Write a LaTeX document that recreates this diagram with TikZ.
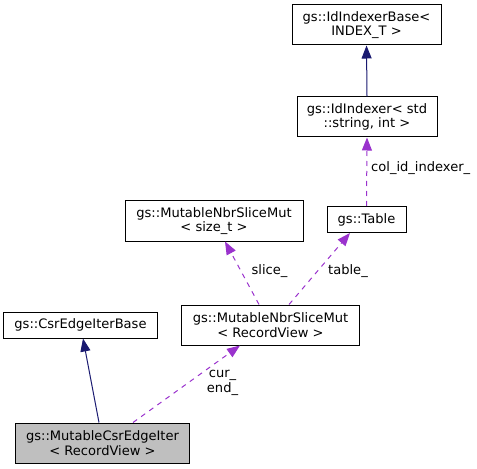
\documentclass[tikz,border=0pt]{standalone}
\usepackage{fontspec}
\setmainfont{DejaVu Sans}
\usetikzlibrary{arrows.meta}
\definecolor{navyc}{HTML}{191970}
\definecolor{purpc}{HTML}{9A32CD}
\definecolor{grayfill}{HTML}{BFBFBF}
\begin{document}
\begin{tikzpicture}[x=1bp,y=-1bp,
  cls/.style={draw=black,line width=1bp,fill=white,inner sep=0pt,align=center,
    font=\fontsize{13.1}{14.5}\selectfont},
  inh/.style={draw=navyc,line width=1bp,-{Triangle[length=13bp,width=10bp]}},
  use/.style={draw=purpc,line width=1bp,dash pattern=on 5bp off 5bp,-{Triangle[length=13bp,width=10bp]}},
  lbl/.style={inner sep=0pt,align=center,font=\fontsize{13.1}{14.5}\selectfont}]
\useasboundingbox (0,0) rectangle (477,469);
\node[cls,minimum width=149bp,minimum height=40bp] (base) at (366.5,25) {gs::IdIndexerBase<\\INDEX\_T >};
\node[cls,minimum width=140bp,minimum height=40bp] (idx) at (367,117) {gs::IdIndexer< std\\::string, int >};
\node[cls,minimum width=79bp,minimum height=26bp] (tab) at (366.5,219.5) {gs::Table};
\node[cls,minimum width=178bp,minimum height=40bp] (slc) at (214,221) {gs::MutableNbrSliceMut\\< size\_t >};
\node[cls,minimum width=178bp,minimum height=40bp] (rv) at (270.5,325) {gs::MutableNbrSliceMut\\< RecordView >};
\node[cls,minimum width=153bp,minimum height=26bp] (csr) at (80.5,325) {gs::CsrEdgeIterBase};
\node[cls,fill=grayfill,minimum width=174bp,minimum height=40bp] (me) at (102.5,443) {gs::MutableCsrEdgeIter\\< RecordView >};
\draw[inh] (idx.north) -- (base.south);
\draw[use] (tab.north) -- (idx.south);
\node[lbl,anchor=west] (l1) at (371,168) {col\_id\_indexer\_};
\draw[use] ([xshift=-11.5bp]rv.north) -- ([xshift=11bp]slc.south);
\node[lbl] (l2) at (269.5,271) {slice\_};
\draw[use] ([xshift=18.5bp]rv.north) -- ([xshift=-16.5bp]tab.south);
\node[lbl] (l3) at (348,271) {table\_};
\draw[inh] ([xshift=-3.5bp]me.north) -- ([xshift=2.5bp]csr.south);
\draw[use] ([xshift=30.5bp]me.north) -- ([xshift=-30.5bp]rv.south);
\node[lbl] (l4) at (222.5,383) {cur\_\\end\_};
\end{tikzpicture}
\end{document}
